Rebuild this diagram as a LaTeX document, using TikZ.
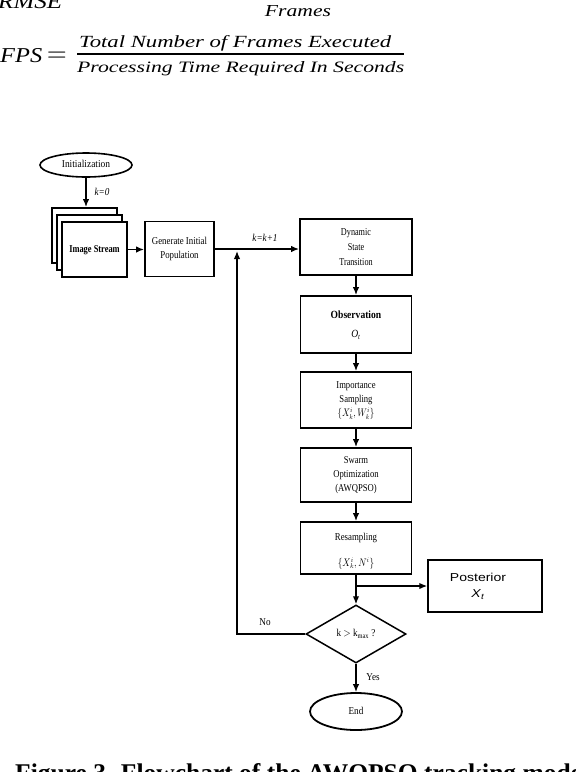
\documentclass[tikz,border=0pt]{standalone}
\usepackage{fontspec}
\setmainfont{Liberation Serif}
\newfontfamily\arialf{Liberation Sans}
\usepackage{graphicx}
\usetikzlibrary{shapes.geometric,arrows.meta}
\newcommand{\cnd}[2][0.87]{\scalebox{#1}[1]{\begin{tabular}{@{}c@{}}#2\end{tabular}}}
\begin{document}
\begin{tikzpicture}[x=1pt,y=-1pt,
  box/.style={draw, line width=1.9pt, fill=white, rectangle, inner sep=0pt, font=\fontsize{10.5}{14}\selectfont},
  oval/.style={draw, ellipse, line width=1.6pt, fill=white, inner sep=0pt, font=\fontsize{10.5}{14}\selectfont},
  arr/.style={-{Latex[length=8pt,width=6.5pt]}, line width=1.4pt},
  lbl/.style={inner sep=0pt, font=\fontsize{10.5}{12}\selectfont},
  eqt/.style={inner sep=0pt, anchor=base west}]
\useasboundingbox (0,0) rectangle (576,772);

% equations
\node[eqt] (rmse) at (-2,8) {\resizebox{64pt}{14pt}{\itshape RMSE}};
\node[inner sep=0pt, anchor=base] (frm) at (298,16.5) {\resizebox{66pt}{11pt}{\itshape Frames}};
\node[eqt] (fps) at (0,62) {\resizebox{42pt}{14pt}{\itshape FPS}};
\node[inner sep=0pt, anchor=base] (eq) at (57,61) {\resizebox{20pt}{!}{$=$}};
\node[eqt] (num) at (79,47) {\resizebox{312pt}{12pt}{\itshape Total Number of Frames Executed}};
\node[eqt] (den) at (77,72) {\resizebox{327pt}{11pt}{\itshape Processing Time Required In Seconds}};
\coordinate (b1) at (77,54);
\coordinate (b2) at (404,54);
\draw[line width=1.2pt] (b1) -- (b2);

% flowchart
\node[oval, minimum width=92pt, minimum height=24pt] (init) at (86,165) {\cnd[0.9]{Initialization}};
\node[box, minimum width=65pt, minimum height=55pt] (sb) at (84.5,235.5) {};
\node[box, minimum width=65pt, minimum height=55pt] (sm) at (89.5,242.5) {};
\node[box, minimum width=65pt, minimum height=55pt] (sf) at (94.5,249.5) {\cnd[0.8]{\bfseries Image Stream}};
\node[box, minimum width=69pt, minimum height=55pt] (gen) at (179.5,249) {\cnd[0.84]{Generate Initial\\Population}};
\node[box, minimum width=112pt, minimum height=56pt, font=\fontsize{10.5}{15}\selectfont] (dyn) at (356,247) {\cnd[0.78]{Dynamic\\State\\Transition}};
\node[box, minimum width=111pt, minimum height=57pt, font=\fontsize{11}{19}\selectfont] (obs) at (356,324.5) {\cnd[0.87]{\bfseries Observation\\ \textit{O}\textsubscript{\textit{t}}}};
\node[box, minimum width=111pt, minimum height=56pt] (imp) at (356,400) {\cnd[0.82]{Importance\\Sampling\\ $\{X^i_k,W^i_k\}$}};
\node[box, minimum width=111pt, minimum height=54pt] (sw) at (356,475) {\cnd[0.82]{Swarm\\Optimization\\(AWQPSO)}};
\node[box, minimum width=111pt, minimum height=50pt, font=\fontsize{10.5}{26}\selectfont] (res) at (356,548) {\cnd[0.84]{Resampling\\ $\{X^i_k,N^i\}$}};
\node[box, line width=1.5pt, minimum width=114pt, minimum height=52pt, font=\arialf\fontsize{11.5}{16}\selectfont] (post) at (485,586) {\cnd[1.22]{Posterior\\ \textit{X}\textsubscript{\textit{t}}}\hspace*{14pt}};
\node[draw, diamond, aspect=1.7, line width=1.5pt, inner sep=0pt, minimum width=100pt, minimum height=58pt, font=\fontsize{10.5}{12}\selectfont] (dec) at (356,634) {\cnd{k $>$ k\textsubscript{max} ?}};
\node[oval, line width=1.8pt, minimum width=92pt, minimum height=37pt] (end) at (356,711.5) {\cnd{End}};

\coordinate (jb) at (237,251);

\draw[arr] (init.south) -- (init.south |- sb.north);
\node[lbl] (k0) at (102,193) {\cnd{\itshape k=0}};
\draw[arr] (sf.east) -- (sf.east -| gen.west);
\draw[arr] (gen.east) -- (gen.east -| dyn.west);
\node[lbl] (kk) at (265,239) {\cnd{\itshape k=k+1}};
\draw[arr] (dyn.south) -- (obs.north);
\draw[arr] (obs.south) -- (imp.north);
\draw[arr] (imp.south) -- (sw.north);
\draw[arr] (sw.south) -- (res.north);
\draw[arr] (res.south) -- (dec.north);
\draw[arr] (res.south |- post.west) -- (post.west);
\draw[arr] (dec.west) -| (jb);
\node[lbl] (no) at (265,623) {\cnd{No}};
\draw[arr] (dec.south) -- (end.north);
\node[lbl] (yes) at (373,678) {\cnd{Yes}};

% caption
\node[eqt, font=\bfseries\fontsize{25.5}{28}\selectfont] (cap) at (15,781) {Figure 3. Flowchart of the AWQPSO tracking model};
\end{tikzpicture}
\end{document}
